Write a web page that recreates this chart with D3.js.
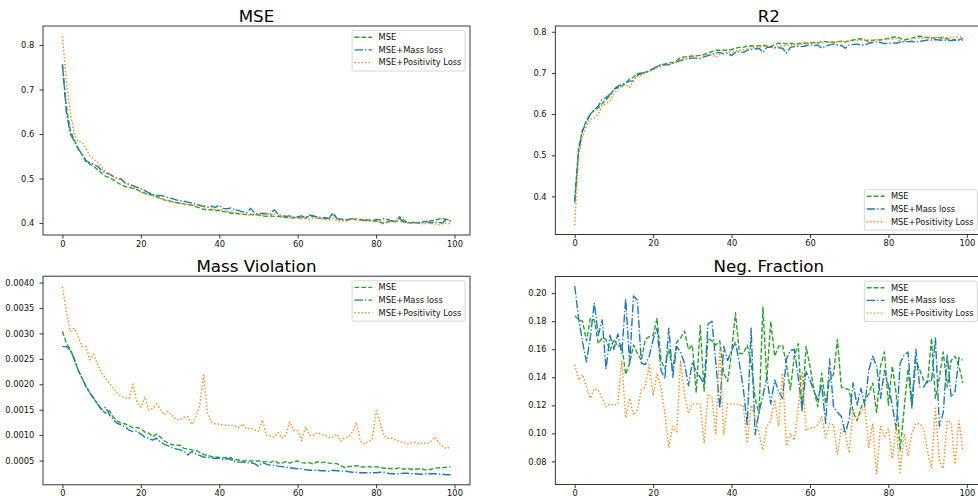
<!DOCTYPE html>
<html>
<head>
<meta charset="utf-8">
<script src="https://cdn.jsdelivr.net/npm/d3@7"></script>
<style>
  html, body { margin: 0; padding: 0; background: #fff; }
  svg { display: block; font-family: "DejaVu Sans", sans-serif; }
</style>
</head>
<body>
<script>
// ---------------- DATA ----------------
const epochs = d3.range(100);
const seriesNames = ["MSE", "MSE+Mass loss", "MSE+Positivity Loss"];
const xTicks = [0, 20, 40, 60, 80, 100];

const mseMSE = [0.755,0.662,0.609,0.587,0.568,0.553,0.538,0.533,0.527,0.520,
0.512,0.505,0.502,0.497,0.491,0.486,0.482,0.480,0.478,0.475,
0.471,0.467,0.465,0.463,0.460,0.456,0.452,0.450,0.448,0.446,
0.445,0.443,0.442,0.440,0.437,0.434,0.431,0.430,0.430,0.428,
0.428,0.426,0.425,0.422,0.422,0.421,0.420,0.419,0.419,0.419,
0.418,0.416,0.415,0.416,0.415,0.415,0.413,0.413,0.412,0.412,
0.412,0.411,0.411,0.415,0.417,0.411,0.410,0.410,0.411,0.423,
0.411,0.409,0.407,0.408,0.410,0.407,0.408,0.407,0.407,0.405,
0.404,0.402,0.398,0.403,0.404,0.403,0.414,0.407,0.401,0.400,
0.401,0.401,0.403,0.404,0.405,0.406,0.409,0.410,0.408,0.405];
const mseMass = [0.757,0.650,0.600,0.585,0.566,0.556,0.540,0.535,0.532,0.527,
0.518,0.513,0.510,0.505,0.500,0.499,0.490,0.487,0.484,0.480,
0.477,0.473,0.468,0.465,0.462,0.462,0.460,0.457,0.455,0.452,
0.450,0.449,0.447,0.445,0.442,0.440,0.437,0.436,0.438,0.435,
0.440,0.433,0.432,0.434,0.430,0.428,0.425,0.423,0.433,0.423,
0.420,0.422,0.420,0.420,0.430,0.420,0.416,0.415,0.416,0.413,
0.414,0.416,0.412,0.418,0.415,0.414,0.412,0.412,0.410,0.421,
0.410,0.408,0.406,0.408,0.410,0.410,0.407,0.406,0.407,0.405,
0.408,0.407,0.410,0.408,0.404,0.405,0.410,0.402,0.401,0.402,
0.401,0.400,0.401,0.403,0.400,0.402,0.401,0.400,0.410,0.403];
const msePos = [0.820,0.720,0.650,0.602,0.583,0.582,0.568,0.551,0.544,0.535,
0.525,0.515,0.510,0.504,0.500,0.495,0.490,0.485,0.480,0.476,
0.470,0.466,0.463,0.460,0.457,0.455,0.452,0.450,0.447,0.445,
0.444,0.443,0.441,0.440,0.440,0.440,0.440,0.436,0.434,0.430,
0.430,0.428,0.426,0.425,0.423,0.420,0.420,0.418,0.418,0.419,
0.417,0.418,0.424,0.418,0.420,0.418,0.415,0.417,0.414,0.413,
0.412,0.412,0.410,0.408,0.412,0.411,0.410,0.408,0.407,0.410,
0.405,0.405,0.404,0.406,0.410,0.410,0.406,0.405,0.404,0.404,
0.405,0.404,0.402,0.404,0.405,0.403,0.404,0.402,0.400,0.401,
0.400,0.399,0.398,0.400,0.399,0.398,0.396,0.398,0.400,0.398];

const r2MSE = [0.390,0.520,0.560,0.585,0.600,0.610,0.615,0.625,0.635,0.645,
0.660,0.665,0.668,0.675,0.685,0.690,0.698,0.700,0.702,0.705,
0.710,0.715,0.720,0.722,0.725,0.725,0.730,0.737,0.739,0.740,
0.741,0.742,0.743,0.745,0.748,0.752,0.755,0.755,0.755,0.756,
0.757,0.760,0.762,0.762,0.765,0.766,0.765,0.766,0.768,0.765,
0.764,0.769,0.772,0.772,0.771,0.772,0.770,0.771,0.773,0.772,
0.773,0.774,0.773,0.776,0.776,0.775,0.774,0.776,0.777,0.775,
0.778,0.780,0.782,0.783,0.780,0.776,0.779,0.781,0.780,0.782,
0.784,0.786,0.788,0.784,0.780,0.782,0.784,0.788,0.789,0.787,
0.786,0.785,0.785,0.786,0.784,0.783,0.781,0.779,0.781,0.784];
const r2Mass = [0.385,0.510,0.560,0.580,0.600,0.610,0.620,0.635,0.640,0.648,
0.660,0.668,0.672,0.676,0.680,0.680,0.695,0.698,0.702,0.705,
0.710,0.716,0.720,0.720,0.720,0.723,0.727,0.730,0.733,0.735,
0.736,0.736,0.735,0.739,0.742,0.745,0.748,0.750,0.746,0.748,
0.742,0.750,0.752,0.750,0.755,0.757,0.758,0.760,0.750,0.762,
0.763,0.762,0.761,0.760,0.748,0.762,0.764,0.765,0.764,0.766,
0.768,0.766,0.768,0.760,0.765,0.768,0.770,0.768,0.767,0.760,
0.768,0.769,0.770,0.768,0.768,0.772,0.774,0.775,0.774,0.771,
0.772,0.773,0.772,0.775,0.776,0.776,0.777,0.775,0.777,0.778,
0.780,0.780,0.781,0.780,0.779,0.780,0.778,0.781,0.779,0.780];
const r2Pos = [0.330,0.500,0.545,0.570,0.588,0.590,0.600,0.620,0.625,0.632,
0.650,0.660,0.668,0.672,0.665,0.685,0.690,0.695,0.700,0.703,
0.707,0.712,0.715,0.720,0.720,0.725,0.728,0.733,0.735,0.737,
0.740,0.741,0.742,0.743,0.745,0.744,0.738,0.745,0.748,0.750,
0.752,0.753,0.755,0.756,0.758,0.760,0.762,0.763,0.764,0.765,
0.762,0.760,0.765,0.766,0.766,0.768,0.768,0.769,0.770,0.771,
0.772,0.772,0.773,0.773,0.774,0.775,0.775,0.776,0.776,0.777,
0.778,0.778,0.779,0.779,0.780,0.780,0.780,0.781,0.781,0.782,
0.782,0.782,0.783,0.778,0.775,0.782,0.784,0.784,0.785,0.785,
0.786,0.785,0.786,0.786,0.787,0.786,0.787,0.787,0.788,0.787];

const mvMSE = [0.00304,0.00281,0.00268,0.00251,0.00228,0.00212,0.00196,0.00183,0.00172,0.00161,
0.00150,0.00143,0.00148,0.00135,0.00128,0.00123,0.00122,0.00119,0.00114,0.00115,
0.00113,0.00106,0.00104,0.00097,0.00102,0.00096,0.00089,0.00084,0.00081,0.00080,
0.00080,0.00074,0.00073,0.00071,0.00070,0.00066,0.00062,0.00060,0.00058,0.00057,
0.00056,0.00055,0.00056,0.00051,0.00052,0.00051,0.00049,0.00050,0.00049,0.00049,
0.00049,0.00048,0.00048,0.00046,0.00050,0.00045,0.00045,0.00048,0.00045,0.00048,
0.00049,0.00046,0.00045,0.00046,0.00043,0.00048,0.00046,0.00047,0.00045,0.00044,
0.00044,0.00040,0.00036,0.00038,0.00039,0.00040,0.00038,0.00037,0.00038,0.00037,
0.00038,0.00036,0.00035,0.00035,0.00034,0.00034,0.00036,0.00033,0.00034,0.00033,
0.00033,0.00034,0.00033,0.00031,0.00033,0.00035,0.00036,0.00036,0.00037,0.00038];
const mvMass = [0.00274,0.00274,0.00268,0.00249,0.00228,0.00212,0.00196,0.00183,0.00172,0.00161,
0.00150,0.00155,0.00140,0.00130,0.00123,0.00120,0.00116,0.00110,0.00107,0.00108,
0.00102,0.00096,0.00094,0.00090,0.00094,0.00087,0.00082,0.00079,0.00075,0.00073,
0.00071,0.00068,0.00061,0.00068,0.00063,0.00060,0.00057,0.00056,0.00055,0.00054,
0.00055,0.00052,0.00053,0.00056,0.00048,0.00047,0.00047,0.00046,0.00046,0.00044,
0.00039,0.00046,0.00043,0.00041,0.00041,0.00039,0.00038,0.00037,0.00036,0.00035,
0.00034,0.00034,0.00032,0.00031,0.00031,0.00031,0.00030,0.00030,0.00029,0.00031,
0.00030,0.00029,0.00030,0.00028,0.00027,0.00027,0.00026,0.00026,0.00026,0.00026,
0.00026,0.00027,0.00027,0.00025,0.00024,0.00024,0.00024,0.00025,0.00025,0.00024,
0.00024,0.00023,0.00023,0.00024,0.00024,0.00024,0.00023,0.00023,0.00022,0.00022];
const mvPos = [0.00392,0.00343,0.00304,0.00310,0.00294,0.00274,0.00274,0.00248,0.00259,0.00238,
0.00222,0.00212,0.00202,0.00192,0.00182,0.00176,0.00174,0.00172,0.00200,0.00164,
0.00155,0.00175,0.00150,0.00152,0.00161,0.00150,0.00140,0.00147,0.00138,0.00131,
0.00130,0.00135,0.00136,0.00121,0.00135,0.00158,0.00218,0.00144,0.00125,0.00122,
0.00122,0.00120,0.00119,0.00120,0.00118,0.00115,0.00122,0.00112,0.00114,0.00110,
0.00108,0.00130,0.00100,0.00098,0.00096,0.00105,0.00094,0.00100,0.00126,0.00109,
0.00109,0.00089,0.00116,0.00100,0.00100,0.00105,0.00102,0.00100,0.00095,0.00096,
0.00102,0.00088,0.00095,0.00096,0.00106,0.00125,0.00088,0.00083,0.00088,0.00091,
0.00148,0.00124,0.00098,0.00094,0.00094,0.00090,0.00088,0.00085,0.00082,0.00085,
0.00086,0.00083,0.00085,0.00083,0.00088,0.00096,0.00085,0.00078,0.00073,0.00078];

const nfMSE = [0.184,0.181,0.180,0.166,0.182,0.181,0.164,0.168,0.167,0.159,
0.167,0.162,0.163,0.142,0.150,0.163,0.157,0.152,0.167,0.169,
0.170,0.182,0.152,0.146,0.160,0.145,0.165,0.168,0.173,0.160,
0.163,0.129,0.177,0.130,0.168,0.166,0.163,0.166,0.143,0.137,
0.158,0.186,0.157,0.157,0.163,0.150,0.125,0.114,0.190,0.138,
0.180,0.155,0.162,0.163,0.149,0.131,0.155,0.164,0.116,0.162,
0.148,0.131,0.119,0.143,0.121,0.138,0.142,0.167,0.133,0.132,
0.131,0.115,0.109,0.118,0.124,0.128,0.136,0.115,0.148,0.158,
0.120,0.148,0.128,0.088,0.117,0.146,0.118,0.152,0.145,0.138,
0.136,0.168,0.125,0.140,0.158,0.133,0.152,0.155,0.148,0.136];
const nfMass = [0.205,0.182,0.165,0.151,0.169,0.193,0.170,0.181,0.146,0.170,
0.160,0.171,0.157,0.196,0.150,0.198,0.195,0.150,0.149,0.155,
0.167,0.175,0.145,0.139,0.175,0.140,0.162,0.158,0.150,0.134,
0.151,0.144,0.140,0.135,0.178,0.180,0.150,0.118,0.162,0.152,
0.159,0.165,0.150,0.132,0.106,0.175,0.099,0.115,0.127,0.140,
0.121,0.138,0.130,0.125,0.153,0.159,0.160,0.140,0.117,0.144,
0.138,0.130,0.124,0.135,0.107,0.153,0.119,0.115,0.112,0.100,
0.110,0.136,0.120,0.132,0.120,0.145,0.155,0.148,0.125,0.145,
0.134,0.120,0.103,0.150,0.156,0.158,0.120,0.160,0.133,0.133,
0.138,0.137,0.168,0.105,0.115,0.156,0.126,0.130,0.154,0.152];
const nfPos = [0.149,0.138,0.142,0.133,0.125,0.132,0.131,0.125,0.119,0.121,
0.120,0.121,0.152,0.111,0.125,0.113,0.117,0.131,0.133,0.149,
0.127,0.143,0.133,0.114,0.090,0.105,0.101,0.152,0.128,0.114,
0.121,0.121,0.121,0.093,0.128,0.126,0.100,0.162,0.099,0.121,
0.121,0.121,0.120,0.120,0.093,0.120,0.111,0.100,0.088,0.105,
0.109,0.124,0.105,0.143,0.091,0.100,0.095,0.118,0.143,0.102,
0.104,0.104,0.106,0.112,0.097,0.107,0.106,0.085,0.103,0.100,
0.086,0.117,0.110,0.115,0.119,0.090,0.107,0.071,0.105,0.098,
0.103,0.082,0.106,0.072,0.100,0.084,0.100,0.107,0.107,0.103,
0.087,0.075,0.118,0.080,0.075,0.109,0.108,0.078,0.109,0.088];

const mseTicks = [0.4, 0.5, 0.6, 0.7, 0.8];
const r2Ticks = [0.4, 0.5, 0.6, 0.7, 0.8];
const mvTicks = [0.0005, 0.0010, 0.0015, 0.0020, 0.0025, 0.0030, 0.0035, 0.0040];
const nfTicks = [0.08, 0.10, 0.12, 0.14, 0.16, 0.18, 0.20];

// ---------------- STYLE / LAYOUT ----------------
const styles = [
  { color: "#2ca02c", dash: "4.8,2.1" },
  { color: "#1f77b4", dash: "8.4,2.1,1.35,2.1" },
  { color: "#ff7f0e", dash: "1.35,2.15" }
];
const lw = 1.4;
const tickFont = 8.3, titleFont = 16.7;

const panels = [
  { title: "MSE", left: 43, top: 26, w: 427, h: 209, yDomain: [0.3731, 0.8427], ticks: mseTicks, fmt: d3.format(".1f"), data: [mseMSE, mseMass, msePos], legend: "upper" },
  { title: "R2", left: 555.3, top: 26, w: 427, h: 208.5, yDomain: [0.3075, 0.814], ticks: r2Ticks, fmt: d3.format(".1f"), data: [r2MSE, r2Mass, r2Pos], legend: "lower" },
  { title: "Mass Violation", left: 43, top: 276.2, w: 427, h: 208.6, yDomain: [0.0000235, 0.004124], ticks: mvTicks, fmt: d3.format(".4f"), data: [mvMSE, mvMass, mvPos], legend: "upper" },
  { title: "Neg. Fraction", left: 555.3, top: 276.5, w: 427, h: 208, yDomain: [0.0635, 0.2119], ticks: nfTicks, fmt: d3.format(".2f"), data: [nfMSE, nfMass, nfPos], legend: "upper" }
];

const svg = d3.select("body").append("svg")
  .attr("width", 978).attr("height", 500);

panels.forEach((p, pi) => {
  const g = svg.append("g").attr("transform", `translate(${p.left},${p.top})`);
  const x = d3.scaleLinear().domain([-4.95, 103.95]).range([0, p.w]);
  const y = d3.scaleLinear().domain(p.yDomain).range([p.h, 0]);

  const clipId = "clip" + pi;
  g.append("clipPath").attr("id", clipId)
    .append("rect").attr("width", p.w).attr("height", p.h);

  const line = d3.line().x((d, i) => x(epochs[i])).y(d => y(d));
  const plot = g.append("g").attr("clip-path", `url(#${clipId})`);
  p.data.forEach((s, si) => {
    plot.append("path")
      .attr("d", line(s))
      .attr("fill", "none")
      .attr("stroke", styles[si].color)
      .attr("stroke-width", lw)
      .attr("stroke-dasharray", styles[si].dash)
      .attr("stroke-linejoin", "round");
  });

  // axes
  const xa = g.append("g").attr("transform", `translate(0,${p.h})`)
    .call(d3.axisBottom(x).tickValues(xTicks).tickFormat(d3.format("d")).tickSize(3.5).tickPadding(2.3));
  const ya = g.append("g")
    .call(d3.axisLeft(y).tickValues(p.ticks).tickFormat(p.fmt).tickSize(3.5).tickPadding(5.2));
  [xa, ya].forEach(a => {
    a.select(".domain").remove();
    a.selectAll(".tick line").attr("stroke", "#000").attr("stroke-width", 0.8);
    a.selectAll(".tick text").attr("fill", "#111")
      .style("font-family", "DejaVu Sans").style("font-size", tickFont + "px");
  });

  // frame
  g.append("rect").attr("width", p.w).attr("height", p.h)
    .attr("fill", "none").attr("stroke", "#222").attr("stroke-width", 0.9);

  // title
  g.append("text").attr("x", p.w / 2).attr("y", -4.5)
    .attr("text-anchor", "middle")
    .style("font-family", "DejaVu Sans").style("font-size", titleFont + "px")
    .attr("fill", "#000").text(p.title);

  // legend
  const lg = g.append("g");
  const box = lg.append("rect").attr("fill", "#fff").attr("fill-opacity", 0.8)
    .attr("stroke", "#cccccc").attr("stroke-width", 0.8).attr("rx", 1.7);
  let maxW = 0;
  const rows = [6.6, 19.3, 32.0];
  seriesNames.forEach((name, si) => {
    lg.append("line").attr("x1", 2.4).attr("x2", 20.1)
      .attr("y1", rows[si]).attr("y2", rows[si])
      .attr("stroke", styles[si].color).attr("stroke-width", lw)
      .attr("stroke-dasharray", styles[si].dash);
    const t = lg.append("text").attr("x", 26.5).attr("y", rows[si])
      .attr("dy", "0.35em")
      .style("font-family", "DejaVu Sans").style("font-size", tickFont + "px")
      .attr("fill", "#111").text(name);
    maxW = Math.max(maxW, t.node().getComputedTextLength());
  });
  const bw = 26.5 + maxW + 3.6, bh = 40.4;
  box.attr("width", bw).attr("height", bh);
  const bx = p.w - 5 - bw;
  const by = p.legend === "upper" ? 4.6 : p.h - 4.4 - bh;
  lg.attr("transform", `translate(${bx},${by})`);
});
</script>
</body>
</html>
